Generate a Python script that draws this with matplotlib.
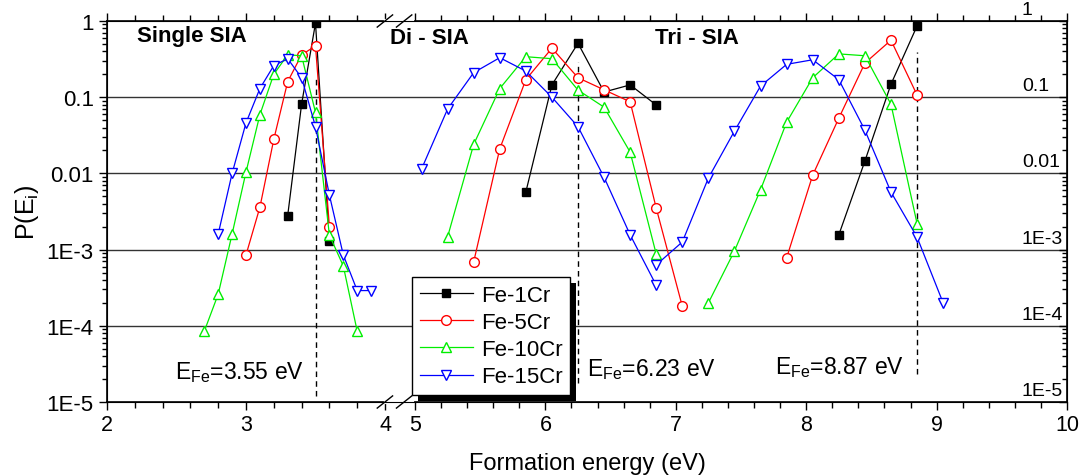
import matplotlib
matplotlib.use('Agg')
import matplotlib.pyplot as plt
import matplotlib.transforms as mtransforms
from matplotlib.patches import Rectangle
from matplotlib.ticker import FixedLocator, NullFormatter, LogLocator
import numpy as np

plt.rcParams['font.family'] = ['Liberation Sans', 'DejaVu Sans']
plt.rcParams['mathtext.default'] = 'regular'

# ---- data: (x, P) for single / di / tri SIA ----
fe1_single_x = [3.3, 3.4, 3.5, 3.6]
fe1_single_y = [2.8e-3, 0.081, 0.94, 1.3e-3]
fe1_di_x = [5.85, 6.05, 6.25, 6.45, 6.65, 6.85]
fe1_di_y = [5.7e-3, 0.145, 0.51, 0.117, 0.145, 0.079]
fe1_tri_x = [8.25, 8.45, 8.65, 8.85]
fe1_tri_y = [1.56e-3, 0.0145, 0.148, 0.86]

fe5_single_x = [3.0, 3.1, 3.2, 3.3, 3.4, 3.5, 3.6]
fe5_single_y = [8.5e-4, 3.6e-3, 0.028, 0.16, 0.36, 0.47, 2.0e-3]
fe5_di_x = [5.45, 5.65, 5.85, 6.05, 6.25, 6.45, 6.65, 6.85, 7.05]
fe5_di_y = [6.9e-4, 0.021, 0.17, 0.44, 0.18, 0.125, 0.087, 3.5e-3, 1.8e-4]
fe5_tri_x = [7.85, 8.05, 8.25, 8.45, 8.65, 8.85]
fe5_tri_y = [7.8e-4, 9.5e-3, 0.053, 0.28, 0.56, 0.107]

fe10_single_x = [2.7, 2.8, 2.9, 3.0, 3.1, 3.2, 3.3, 3.4, 3.5, 3.6, 3.7, 3.8]
fe10_single_y = [8.5e-5, 2.6e-4, 1.6e-3, 0.0104, 0.059, 0.20, 0.36, 0.35,
                 0.063, 1.55e-3, 6.1e-4, 8.5e-5]
fe10_di_x = [5.25, 5.45, 5.65, 5.85, 6.05, 6.25, 6.45, 6.65, 6.85]
fe10_di_y = [1.47e-3, 0.024, 0.13, 0.34, 0.32, 0.124, 0.074, 0.019, 8.7e-4]
fe10_tri_x = [7.25, 7.45, 7.65, 7.85, 8.05, 8.25, 8.45, 8.65, 8.85]
fe10_tri_y = [2.0e-4, 9.6e-4, 6.1e-3, 0.047, 0.18, 0.37, 0.35, 0.081, 2.2e-3]

fe15_single_x = [2.8, 2.9, 3.0, 3.1, 3.2, 3.3, 3.4, 3.5, 3.6, 3.7, 3.8, 3.9]
fe15_single_y = [1.6e-3, 0.010, 0.046, 0.13, 0.26, 0.32, 0.18, 0.041,
                 5.2e-3, 8.5e-4, 2.9e-4, 2.9e-4]
fe15_di_x = [5.05, 5.25, 5.45, 5.65, 5.85, 6.05, 6.25, 6.45, 6.65, 6.85]
fe15_di_y = [0.0114, 0.070, 0.21, 0.33, 0.22, 0.10, 0.041, 8.9e-3, 1.56e-3, 3.4e-4]
fe15_tri_x = [6.85, 7.05, 7.25, 7.45, 7.65, 7.85, 8.05, 8.25, 8.45, 8.65, 8.85, 9.05]
fe15_tri_y = [6.3e-4, 1.26e-3, 8.7e-3, 0.036, 0.14, 0.27, 0.31, 0.17, 0.037,
              5.7e-3, 1.46e-3, 2.0e-4]

labels = ['Fe-1Cr', 'Fe-5Cr', 'Fe-10Cr', 'Fe-15Cr']
colors = ['black', '#ff0000', '#00ee00', '#0000ff']
markers = ['s', 'o', '^', 'v']

e_fe_x = [3.5, 6.25, 8.85]
e_fe_top = [0.19, 0.29, 0.39]
e_fe_bottom = [1.2e-5, 1.8e-5, 2.3e-5]
e_fe_text = ['3.55', '6.23', '8.87']

series = [
    [(fe1_single_x, fe1_single_y), (fe1_di_x, fe1_di_y), (fe1_tri_x, fe1_tri_y)],
    [(fe5_single_x, fe5_single_y), (fe5_di_x, fe5_di_y), (fe5_tri_x, fe5_tri_y)],
    [(fe10_single_x, fe10_single_y), (fe10_di_x, fe10_di_y), (fe10_tri_x, fe10_tri_y)],
    [(fe15_single_x, fe15_single_y), (fe15_di_x, fe15_di_y), (fe15_tri_x, fe15_tri_y)],
]


# broken x axis: 2-4 and 5-10 with different widths
def fwd(x):
    x = np.asarray(x, dtype=float)
    return np.where(x <= 4, (x - 2) * 139.0,
                    np.where(x < 5, 278 + (x - 4) * 30.0, 308 + (x - 5) * 130.4))


def inv(u):
    u = np.asarray(u, dtype=float)
    return np.where(u <= 278, 2 + u / 139.0,
                    np.where(u < 308, 4 + (u - 278) / 30.0, 5 + (u - 308) / 130.4))


fig = plt.figure(figsize=(10.83, 4.77), dpi=100)
ax = fig.add_axes([107 / 1083, 74 / 477, 960 / 1083, 381 / 477])
ax.set_xscale('function', functions=(fwd, inv))
ax.set_yscale('log')
ax.set_xlim(2, 10)
ax.set_ylim(1e-5, 1)

for yv in [0.1, 0.01, 1e-3, 1e-4]:
    ax.axhline(yv, color='#333333', lw=1.0, zorder=1)

handles = []
for segs, lab, c, m in zip(series, labels, colors, markers):
    face = c if m == 's' else 'white'
    ms = 5.5 if m == 's' else 7
    for i, (xs, ys) in enumerate(segs):
        ln, = ax.plot(xs, ys, color=c, lw=0.9, marker=m, ms=ms,
                      markerfacecolor=face, markeredgecolor=c, markeredgewidth=1.0,
                      zorder=3)
        if i == 0:
            handles.append(ln)

for xv, yt, yb in zip(e_fe_x, e_fe_top, e_fe_bottom):
    ax.plot([xv, xv], [yb, yt], color='black', lw=1, dashes=(4, 3), zorder=2)

# ticks
ax.set_xticks([2, 3, 4, 5, 6, 7, 8, 9, 10])
minor_x = [2.2, 2.4, 2.6, 2.8, 3.2, 3.4, 3.6, 3.8] + \
          [round(5 + 0.2 * k, 1) for k in range(1, 25) if k % 5 != 0]
ax.xaxis.set_minor_locator(FixedLocator(minor_x))
ax.xaxis.set_minor_formatter(NullFormatter())
ax.tick_params(axis='x', which='both', direction='out', top=True, labelsize=15.5, pad=3)
ax.tick_params(axis='x', which='major', length=6, width=1)
ax.tick_params(axis='x', which='minor', length=4, width=1)

ax.set_yticks([1e-5, 1e-4, 1e-3, 0.01, 0.1, 1],
              ['1E-5', '1E-4', '1E-3', '0.01', '0.1', '1'])
ax.yaxis.set_minor_locator(LogLocator(base=10, subs=np.arange(2, 10), numticks=20))
ax.yaxis.set_minor_formatter(NullFormatter())
ax.tick_params(axis='y', which='both', direction='out', right=False, labelsize=16)
ax.tick_params(axis='y', which='major', length=6, width=1)
ax.tick_params(axis='y', which='minor', length=3.5, width=1)

ax2 = ax.twinx()
ax2.set_yscale('log')
ax2.set_ylim(1e-5, 1)
ax2.yaxis.set_minor_locator(LogLocator(base=10, subs=np.arange(2, 10), numticks=20))
ax2.tick_params(axis='y', which='both', direction='in', labelright=False)
ax2.tick_params(axis='y', which='major', length=6, width=1)
ax2.tick_params(axis='y', which='minor', length=3.5, width=1)
ax2.yaxis.set_minor_formatter(NullFormatter())

# right-hand labels drawn inside the frame
trans = mtransforms.blended_transform_factory(ax.transAxes, ax.transData)
trans = trans + mtransforms.ScaledTranslation(0, 3 / 100, fig.dpi_scale_trans)
for yv, txt in zip([1, 0.1, 0.01, 1e-3, 1e-4, 1e-5],
                   ['1', '0.1', '0.01', '1E-3', '1E-4', '1E-5']):
    ax.text(0.953, yv, txt, transform=trans, ha='left', va='bottom', fontsize=14,
            clip_on=False)

for sp in ax.spines.values():
    sp.set_linewidth(1.2)

# axis break marks
gap_l, gap_r = 278 / 960, 308 / 960
for yy in (0, 1):
    ax.plot([gap_l + 0.001, gap_r - 0.003], [yy, yy], color='white', lw=3,
            transform=ax.transAxes, clip_on=False, zorder=4)
    for cx in (0.2895, 0.3095):
        ax.plot([cx - 0.008, cx + 0.008], [yy - 0.016, yy + 0.016], color='black',
                lw=1, transform=ax.transAxes, clip_on=False, zorder=5)

ax.set_xlabel('Formation energy (eV)', fontsize=17, labelpad=12)
ax.set_ylabel(r'P(E$_{i}$)', fontsize=18, labelpad=4)

ax.text(0.031, 0.963, 'Single SIA', transform=ax.transAxes, fontsize=16,
        fontweight='bold', va='center', ha='left')
ax.text(0.295, 0.958, 'Di - SIA', transform=ax.transAxes, fontsize=16,
        fontweight='bold', va='center', ha='left')
ax.text(0.571, 0.958, 'Tri - SIA', transform=ax.transAxes, fontsize=16,
        fontweight='bold', va='center', ha='left')

for xa, ya, val in zip([0.0708, 0.5, 0.696], [0.081, 0.087, 0.092], e_fe_text):
    ax.text(xa, ya, r'E$_{Fe}$=' + val + ' eV', transform=ax.transAxes,
            fontsize=16.5, va='center', ha='left')

leg = ax.legend(handles, labels, loc='upper left',
                bbox_to_anchor=(412 / 1083, 1 - 278 / 477),
                bbox_transform=fig.transFigure, fontsize=16, frameon=True,
                fancybox=False, framealpha=1, edgecolor='black',
                handlelength=2.4, handletextpad=0.35, labelspacing=0.28,
                borderpad=0.35, borderaxespad=0)
leg.get_frame().set_linewidth(1.0)
leg.set_zorder(10)

# solid black drop shadow behind legend
fig.canvas.draw()
bb = leg.get_window_extent().transformed(ax.transAxes.inverted())
dx, dy = 6 / 960, 6 / 381
ax.add_patch(Rectangle((bb.x0 + dx, bb.y0 - dy), bb.width, bb.height,
                       transform=ax.transAxes, facecolor='black', edgecolor='none',
                       clip_on=False, zorder=9))

fig.savefig('out.png', dpi=100)
